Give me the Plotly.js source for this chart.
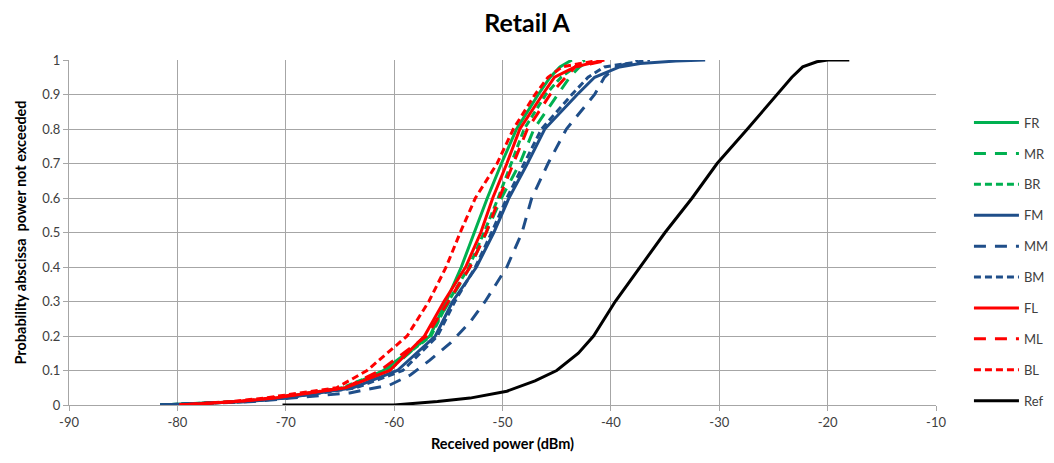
<!DOCTYPE html>
<html>
<head>
<meta charset="utf-8">
<script src="https://cdn.plot.ly/plotly-3.0.1.min.js"></script>
<style>html,body{margin:0;padding:0;background:#fff;}#chart{width:1054px;height:463px;}</style>
</head>
<body>
<div id="chart"></div>
<script>
// Probability levels (shared by most series)
const probLevels = [0, 0.01, 0.02, 0.05, 0.1, 0.2, 0.3, 0.4, 0.5, 0.6, 0.7, 0.8, 0.9, 0.95, 0.98, 1];

// Received power (dBm) at each probability level
const FR = [-81.6, -74.0, -70.5, -64.5, -61.0, -56.7, -55.2, -53.8, -52.6, -51.4, -50.1, -48.7, -46.7, -45.6, -44.7, -43.6];
const MR = [-81.6, -74.0, -70.5, -64.2, -60.5, -56.8, -54.9, -53.0, -51.5, -50.1, -48.4, -47.1, -44.9, -43.8, -42.9, -41.9];
const BR = [-81.6, -74.0, -70.8, -64.8, -60.8, -56.6, -55.0, -53.1, -51.7, -50.4, -49.2, -48.0, -46.0, -44.6, -43.3, -42.4];
const FL = [-79.8, -74.5, -71.0, -64.5, -60.4, -57.2, -55.4, -53.4, -52.0, -50.9, -49.6, -48.4, -46.3, -45.2, -43.3, -40.6];
const ML = [-79.8, -74.5, -71.5, -64.5, -61.3, -57.0, -55.0, -53.0, -51.5, -50.3, -49.0, -47.7, -45.6, -44.2, -43.3, -40.1];
const BL = [-79.8, -75.0, -72.0, -65.3, -62.5, -58.8, -56.8, -55.2, -53.9, -52.5, -50.5, -49.0, -47.0, -45.8, -44.5, -41.0];
const BM = [-81.6, -73.5, -70.0, -63.5, -59.2, -56.0, -54.4, -52.5, -51.0, -49.6, -48.0, -46.4, -43.6, -42.1, -40.6, -36.4];

// FM has a long tail near 1
const FM_p = [0, 0.01, 0.02, 0.05, 0.1, 0.2, 0.3, 0.4, 0.5, 0.6, 0.7, 0.8, 0.9, 0.95, 0.98, 0.99, 0.997, 1];
const FM   = [-81.6, -73.5, -70.0, -63.8, -59.7, -56.2, -54.6, -52.4, -50.8, -49.4, -47.7, -46.1, -43.1, -41.5, -39.2, -37.3, -34.0, -31.3];

// MM (rightmost of the group)
const MM_p = [0, 0.01, 0.02, 0.035, 0.058, 0.087, 0.13, 0.18, 0.24, 0.3, 0.4, 0.5, 0.6, 0.7, 0.8, 0.9, 0.95, 0.98, 1];
const MM   = [-81.6, -73.0, -69.5, -64.1, -60.4, -58.5, -56.7, -54.8, -53.0, -51.6, -49.6, -48.2, -47.3, -45.8, -44.1, -41.5, -40.6, -39.5, -37.5];

// Reference
const Ref_p = [0, 0, 0.005, 0.01, 0.02, 0.04, 0.07, 0.1, 0.15, 0.2, 0.3, 0.4, 0.5, 0.6, 0.7, 0.8, 0.9, 0.95, 0.98, 0.995, 1, 1];
const Ref   = [-70.3, -60.0, -58.0, -56.0, -53.0, -49.6, -47.0, -45.0, -43.0, -41.6, -39.6, -37.3, -35.0, -32.5, -30.2, -27.4, -24.7, -23.3, -22.3, -21.0, -20.0, -18.0];

const xTicks = [-90, -80, -70, -60, -50, -40, -30, -20, -10];
const yTicks = [0, 0.1, 0.2, 0.3, 0.4, 0.5, 0.6, 0.7, 0.8, 0.9, 1];
const yTickLabels = ['0', '0.1', '0.2', '0.3', '0.4', '0.5', '0.6', '0.7', '0.8', '0.9', '1'];

const GREEN = '#00b050', BLUE = '#1f4e89', RED = '#ff0000', BLACK = '#000000';
const LONG = '12px,9px', SHORT = '7px,4px';

const series = [
  {name: 'FR', x: FR, y: probLevels, color: GREEN, dash: 'solid'},
  {name: 'MR', x: MR, y: probLevels, color: GREEN, dash: LONG},
  {name: 'BR', x: BR, y: probLevels, color: GREEN, dash: SHORT},
  {name: 'FM', x: FM, y: FM_p, color: BLUE, dash: 'solid'},
  {name: 'MM', x: MM, y: MM_p, color: BLUE, dash: LONG},
  {name: 'BM', x: BM, y: probLevels, color: BLUE, dash: SHORT},
  {name: 'FL', x: FL, y: probLevels, color: RED, dash: 'solid'},
  {name: 'ML', x: ML, y: probLevels, color: RED, dash: LONG},
  {name: 'BL', x: BL, y: probLevels, color: RED, dash: SHORT},
  {name: 'Ref', x: Ref, y: Ref_p, color: BLACK, dash: 'solid'}
];

const traces = series.map(s => ({
  type: 'scatter', mode: 'lines', name: s.name, x: s.x, y: s.y,
  legendgroup: s.name,
  line: {color: s.color, width: 3, dash: s.dash}
}));

const FONT = 'Lato, "Open Sans", sans-serif';

const layout = {
  width: 1054, height: 463,
  margin: {l: 69, r: 118, t: 60, b: 58, autoexpand: false},
  paper_bgcolor: '#fff', plot_bgcolor: '#fff',
  font: {family: FONT, size: 13, color: '#404040'},
  title: {text: '<b>Retail A</b>', font: {family: FONT, size: 25, color: '#000'}, x: 0.5, xref: 'container', xanchor: 'center', y: 0.968, yanchor: 'top'},
  xaxis: {
    range: [-90, -10], tickmode: 'array', tickvals: xTicks, ticktext: xTicks.map(String),
    showgrid: true, gridcolor: '#a6a6a6', gridwidth: 1,
    showline: true, linecolor: '#a6a6a6', linewidth: 1,
    ticks: 'outside', ticklen: 5, tickcolor: '#a6a6a6',
    zeroline: false, tickfont: {size: 13, color: '#404040'},
    title: {text: '<b>Received power (dBm)</b>', font: {family: FONT, size: 14.5, color: '#000'}, standoff: 10}
  },
  yaxis: {
    range: [0, 1], tickmode: 'array', tickvals: yTicks, ticktext: yTickLabels,
    showgrid: true, gridcolor: '#a6a6a6', gridwidth: 1,
    showline: true, linecolor: '#a6a6a6', linewidth: 1,
    ticks: 'outside', ticklen: 5, tickcolor: '#a6a6a6',
    zeroline: false, tickfont: {size: 13, color: '#404040'},
    title: {text: '<b>Probability abscissa  power not exceeded</b>', font: {family: FONT, size: 14.5, color: '#000'}, standoff: 12}
  },
  showlegend: true,
  legend: {
    x: 1.038, xanchor: 'left', y: 0.862, yanchor: 'top',
    font: {family: FONT, size: 13, color: '#404040'},
    tracegroupgap: 11, itemwidth: 45, bgcolor: 'rgba(0,0,0,0)'
  }
};

Plotly.newPlot('chart', traces, layout, {displayModeBar: false, staticPlot: true});
</script>
</body>
</html>
